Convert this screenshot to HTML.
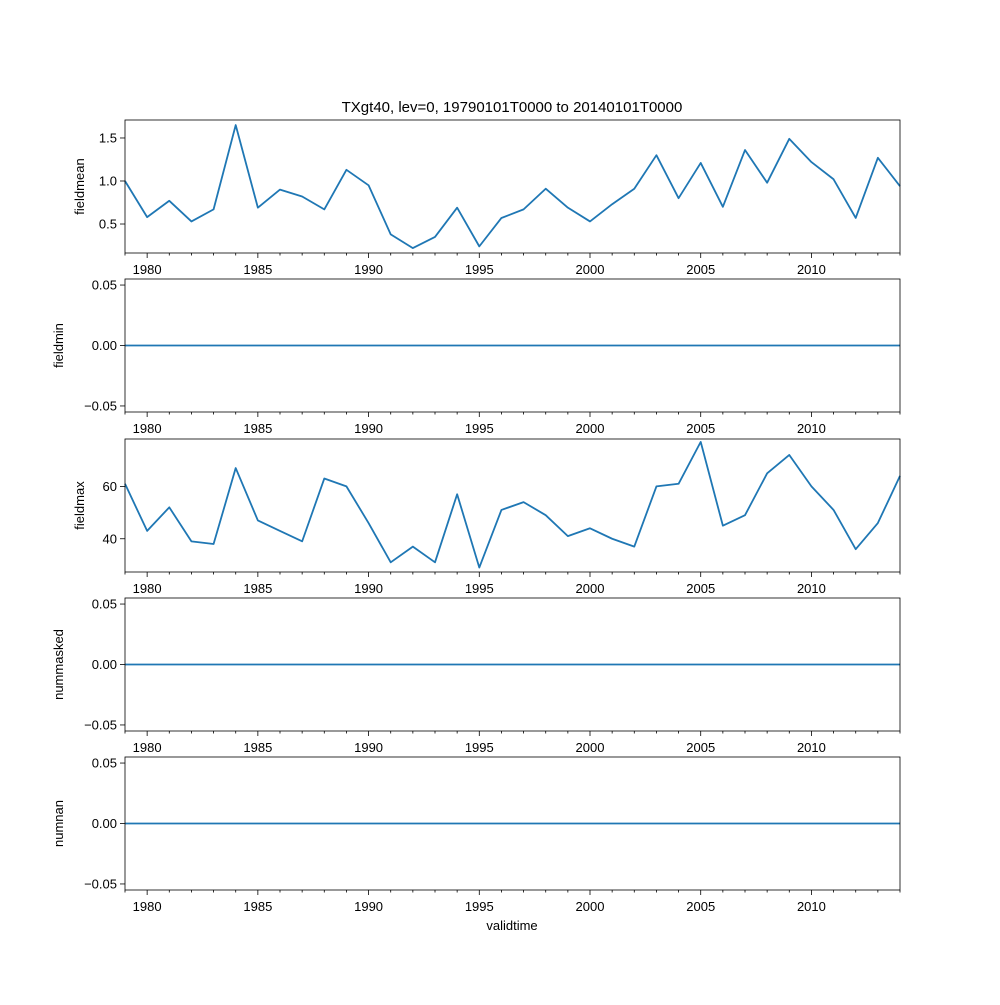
<!DOCTYPE html>
<html><head><meta charset="utf-8"><style>
body{margin:0;background:#fff;font-family:"Liberation Sans","DejaVu Sans",sans-serif}
</style></head><body>
<svg id="fig" width="1000" height="1000" xmlns="http://www.w3.org/2000/svg" font-family="Liberation Sans, DejaVu Sans, sans-serif">
<rect width="1000" height="1000" fill="#fff"/>
<text x="512" y="112" font-size="15" text-anchor="middle">TXgt40, lev=0, 19790101T0000 to 20140101T0000</text>
<text x="512" y="930" font-size="13" text-anchor="middle">validtime</text>
</svg>
<script>
const years = [1979,1980,1981,1982,1983,1984,1985,1986,1987,1988,1989,1990,1991,1992,1993,1994,1995,1996,1997,1998,1999,2000,2001,2002,2003,2004,2005,2006,2007,2008,2009,2010,2011,2012,2013,2014];
const fieldmean = [1.0,0.58,0.77,0.53,0.67,1.65,0.69,0.90,0.82,0.67,1.13,0.95,0.38,0.22,0.35,0.69,0.24,0.57,0.67,0.91,0.69,0.53,0.73,0.91,1.30,0.80,1.21,0.70,1.36,0.98,1.49,1.22,1.02,0.57,1.27,0.94];
const fieldmin = years.map(()=>0);
const fieldmax = [61,43,52,39,38,67,47,43,39,63,60,46,31,37,31,57,29,51,54,49,41,44,40,37,60,61,77,45,49,65,72,60,51,36,46,64];
const nummasked = years.map(()=>0);
const numnan = years.map(()=>0);
const xTicks = [1980,1985,1990,1995,2000,2005,2010];
const panels = [
 {name:'fieldmean', data:fieldmean, top:120, min:0.163, max:1.709, ticks:[0.5,1.0,1.5], labels:['0.5','1.0','1.5']},
 {name:'fieldmin', data:fieldmin, top:279, min:-0.055, max:0.055, ticks:[-0.05,0,0.05], labels:['−0.05','0.00','0.05']},
 {name:'fieldmax', data:fieldmax, top:439, min:27.3, max:78.1, ticks:[40,60], labels:['40','60']},
 {name:'nummasked', data:nummasked, top:598, min:-0.055, max:0.055, ticks:[-0.05,0,0.05], labels:['−0.05','0.00','0.05']},
 {name:'numnan', data:numnan, top:757, min:-0.055, max:0.055, ticks:[-0.05,0,0.05], labels:['−0.05','0.00','0.05']}
];
const NS='http://www.w3.org/2000/svg', svg=document.getElementById('fig');
const L=125,R=900,H=133;
const xs=v=>L+(v-1979)/(2014-1979)*(R-L);
function mk(t,a,p){const e=document.createElementNS(NS,t);for(const k in a)e.setAttribute(k,a[k]);(p||svg).appendChild(e);return e;}
panels.forEach(p=>{
 const g=mk('g',{});
 
 
 const ys=v=>p.top+H-(v-p.min)/(p.max-p.min)*H;
 const pts=p.data.map((v,i)=>xs(years[i]).toFixed(2)+','+ys(v).toFixed(2)).join(' ');
 const line=mk('polyline',{points:pts,fill:'none',stroke:'#1f77b4','stroke-width':1.8,'stroke-linejoin':'round'},g);
 
 
 const fr=mk('rect',{x:L,y:p.top,width:R-L,height:H,fill:'none',stroke:'#000','stroke-width':0.8},g);
 
 
 for(let y=1979;y<=2014;y++){
  const maj=xTicks.includes(y);
  mk('line',{x1:xs(y),x2:xs(y),y1:p.top+H,y2:p.top+H+(maj?5:2.5),stroke:'#000','stroke-width':0.8},g);
 }
 xTicks.forEach(y=>{
  const t=mk('text',{x:xs(y),y:p.top+H+21,'font-size':13,'text-anchor':'middle'},g);
  t.textContent=y;
  
  
 });
 p.ticks.forEach((v,i)=>{
  mk('line',{x1:L-5,x2:L,y1:ys(v),y2:ys(v),stroke:'#000','stroke-width':0.8},g);
  const t=mk('text',{x:L-8,y:ys(v)+4.5,'font-size':13,'text-anchor':'end'},g);
  t.textContent=p.labels[i];
  
  
 });
 const yl=mk('text',{x:0,y:0,'font-size':13,'text-anchor':'middle',transform:`translate(${p.name==='fieldmean'||p.name==='fieldmax'?84:63},${p.top+H/2}) rotate(-90)`},g);
 yl.textContent=p.name;
 
 
});
</script>
</body></html>
